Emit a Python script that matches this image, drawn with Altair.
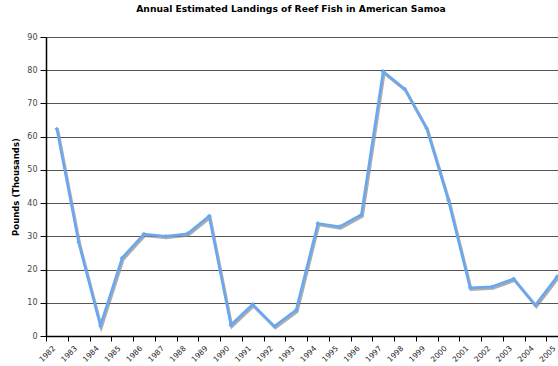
import altair as alt
import pandas as pd

years = list(range(1982, 2006))
pounds = [62.3, 28.2, 3.1, 23.5, 30.7, 30.0, 30.8, 36.1, 3.3, 9.5, 2.9, 7.8,
          33.9, 32.9, 36.5, 79.6, 74.3, 62.5, 40.9, 14.5, 14.8, 17.2, 9.3, 17.9]
y_ticks = list(range(0, 91, 10))

df = pd.DataFrame({"year": years, "pounds": pounds})

FONT = "DejaVu Sans"
W = 512
STEP = 21.75
x_domain = [years[0] - 0.5, years[0] - 0.5 + W / STEP]
tick_vals = [y - 0.5 for y in years]
all_vals = sorted(tick_vals + years)

x_enc = alt.X("year:Q",
              scale=alt.Scale(domain=x_domain, nice=False, zero=False),
              axis=alt.Axis(title=None, values=all_vals,
                            labelExpr="datum.value % 1 == 0 ? format(datum.value, 'd') : ''",
                            labelAngle=-45, labelAlign="right",
                            labelBaseline="middle", labelPadding=6, labelOffset=-3,
                            labelFontSize=7.5, labelColor="#222", labelFont=FONT,
                            labelOverlap=False,
                            tickOpacity={"condition": {"test": "datum.value % 1 == 0", "value": 0}, "value": 1},
                            tickSize=5, tickColor="#000",
                            domainColor="#000", domainWidth=1.5, grid=False))
y_enc = alt.Y("pounds:Q",
              scale=alt.Scale(domain=[0, 90], nice=False),
              axis=alt.Axis(title="Pounds (Thousands)", values=y_ticks,
                            titleFontSize=8.5, titleFontWeight="bold", titleFont=FONT,
                            titleColor="#000", titlePadding=6,
                            labelFontSize=8, labelColor="#444", labelFont=FONT,
                            labelPadding=3,
                            tickSize=6, tickColor="#000", domainColor="#000",
                            domainWidth=1.5, grid=True, gridColor="#555",
                            gridWidth=1, gridOpacity=1))

shadow = alt.Chart(df).mark_line(color="#8a8a8a", strokeWidth=3, opacity=0.7,
                                 xOffset=1, yOffset=1.5).encode(x=x_enc, y=y_enc)
line = alt.Chart(df).mark_line(color="#69a8f0", strokeWidth=2.6).encode(x=x_enc, y=y_enc)
pts = alt.Chart(df).mark_point(shape="diamond", filled=True, size=22,
                               color="#69a8f0", opacity=1).encode(x=x_enc, y=y_enc)

chart = (shadow + line + pts).properties(
    width=W, height=299,
    title=alt.TitleParams("Annual Estimated Landings of Reef Fish in American Samoa",
                          font=FONT, fontSize=9.2, fontWeight="bold", color="#000",
                          anchor="middle", dx=-11, offset=19),
    autosize=alt.AutoSizeParams(type="none"),
    padding={"left": 46, "top": 37, "right": 0, "bottom": 30},
).configure_view(stroke=None).configure(background="white")

chart.save("out.html", embed_options={"renderer": "svg", "actions": False})
